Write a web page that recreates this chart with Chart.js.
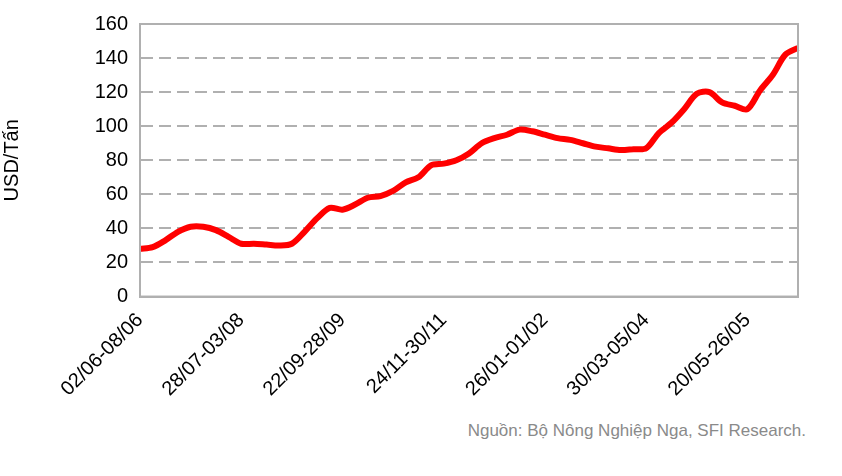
<!DOCTYPE html>
<html><head><meta charset="utf-8">
<script src="https://cdn.jsdelivr.net/npm/chart.js@4/dist/chart.umd.min.js"></script>
<style>
body{margin:0;background:#fff;width:842px;height:476px;overflow:hidden;position:relative;font-family:"Liberation Sans",Arial,sans-serif}
#wrap{position:absolute;left:0;top:0;width:842px;height:405px}
#src{position:absolute;right:36px;top:421px;font-size:17px;color:#8a8a8a}
</style></head><body>
<div id="wrap"><canvas id="c"></canvas></div>
<div id="src">Nguồn: Bộ Nông Nghiệp Nga, SFI Research.</div>
<script>
const tickLabels = ["02/06-08/06","28/07-03/08","22/09-28/09","24/11-30/11","26/01-01/02","30/03-05/04","20/05-26/05"];
const values = [28,29,33,38,41,41,39,35,31,31,30.5,30,31,38,46,52,51,54,58,59,62,67,70,77,78,80,84,90,93,95,98,97,95,93,92,90,88,87,86,86.5,87,96,102,110,119,120,114,112,110,121,130,142,146];
const tickEvery = 8;
const categories = values.map((v,i)=> i%tickEvery===0 ? (tickLabels[i/tickEvery]||"") : "");
const F = {size:20,family:'"Liberation Sans",Arial'};
new Chart(document.getElementById('c'),{
 type:'line',
 data:{labels:categories,datasets:[{data:values,borderColor:'#ff0000',borderWidth:6,pointRadius:0,tension:0.3,fill:false}]},
 options:{responsive:true,maintainAspectRatio:false,animation:false,
  layout:{padding:{left:0,right:44,top:14,bottom:0}},
  plugins:{legend:{display:false},tooltip:{enabled:false}},
  scales:{
   x:{offset:false,grid:{display:false},border:{color:'#b0b0b0',width:2},
      ticks:{autoSkip:false,maxRotation:45,minRotation:45,color:'#000',font:F,padding:4}},
   y:{min:0,max:160,afterFit(s){s.width=140;},grid:{color:'#b0b0b0',lineWidth:2,drawTicks:false},border:{color:'#b0b0b0',width:2,dash:[12,6]},
      ticks:{stepSize:20,color:'#000',font:F,padding:12},
      title:{display:true,text:'USD/Tấn',color:'#000',font:F,padding:{top:0,bottom:0}}}
  }},
 plugins:[{id:'box',afterDraw(ch){const a=ch.chartArea,c=ch.ctx;c.save();c.strokeStyle='#b0b0b0';c.lineWidth=2;c.strokeRect(a.left,a.top,a.right-a.left,a.bottom-a.top);c.restore();}}]
});
</script></body></html>
